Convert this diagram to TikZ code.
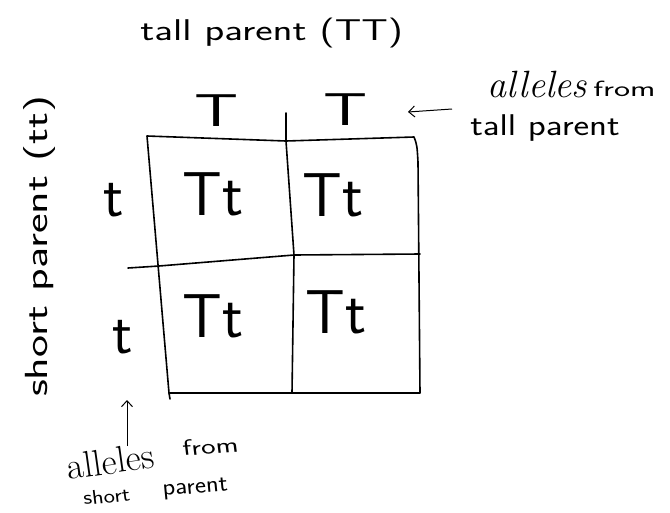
\documentclass[tikz,border=0pt]{standalone}
\usepackage{fontspec}
\usepackage{tikz}
\usetikzlibrary{arrows.meta}

\tikzset{
  hand/.style={font=\sffamily\fontsize{#1}{#1}\selectfont, inner sep=0pt},
  typed/.style={font=\rmfamily\fontsize{#1}{#1}\selectfont, inner sep=0pt},
  typedit/.style={font=\rmfamily\itshape\fontsize{#1}{#1}\selectfont, inner sep=0pt},
  gridline/.style={line width=1.6pt, line join=round, line cap=round},
  notearrow/.style={line width=1pt, -{Straight Barb[length=6pt,width=11pt]}},
}

\begin{document}
\begin{tikzpicture}[x=1pt,y=-1pt]
        \useasboundingbox (0,0) rectangle (670,512);
        % corners of the square
        \coordinate (tl) at (147,136);
        \coordinate (tm) at (286,141);
        \coordinate (tr) at (414,137);
        \coordinate (trb) at (418,162);
        \coordinate (br) at (420,393);
        \coordinate (bm) at (292,393);
        \coordinate (bl) at (169,393);
        \coordinate (mm) at (294,255);
        \coordinate (ml) at (159,266);
        \coordinate (mr) at (420,254);
        \coordinate (vtop) at (286,113);
        \coordinate (hleft) at (128,268);
        \draw[gridline] (tl) -- (tm) -- (tr) .. controls (417,145) .. (trb) -- (br) -- (bm) -- (bl) -- cycle;
        \draw[gridline] (bl) -- ++(1,6);
        \draw[gridline] (vtop) -- (tm) -- (mm) -- (bm);
        \draw[gridline] (hleft) -- (ml) -- (mm) -- (mr);
        % labels
        \node[hand=30, xscale=1.38, anchor=base west] (title) at (140,40) {tall parent (TT)};
        \node[hand=46, xscale=1.5] (talla) at (217,111) {T};
        \node[hand=46, xscale=1.5] (tallb) at (346,110) {T};
        \node[hand=60] (shorta) at (114,200) {t};
        \node[hand=60] (shortb) at (123,337) {t};
        \node[hand=62] (tt11) at (213,194) {Tt};
        \node[hand=62] (tt12) at (333,195) {Tt};
        \node[hand=62] (tt21) at (213,316) {Tt};
        \node[hand=62] (tt22) at (336,312) {Tt};
        \node[hand=32, rotate=90, xscale=1.46] (side) at (40,246) {short parent (tt)};
        % notes
        \node[typedit=38, anchor=base west] (allelest) at (487,97) {alleles};
        \node[hand=22, xscale=1.55, anchor=base west] (fromt) at (593,96) {from};
        \node[hand=30, xscale=1.24, anchor=base west] (tallp) at (470,135) {tall parent};
        \node[typed=37, rotate=8, anchor=base west] (allelesb) at (68,480) {alleles};
        \node[hand=22, xscale=1.4, rotate=5, anchor=base west] (fromb) at (183,456) {from};
        \node[hand=20, xscale=1.2, rotate=6, anchor=base west] (shortp) at (84,505) {short};
        \node[hand=24, xscale=1.1, rotate=5, anchor=base west] (parentb) at (163,496) {parent};
        \coordinate (tailt) at (452,109);
        \coordinate (tipt) at (408,112);
        \coordinate (tailb) at (127,446);
        \coordinate (tipb) at (127,400);
        \draw[notearrow] (tailt) -- (tipt);
        \draw[notearrow] (tailb) -- (tipb);
    \end{tikzpicture}
\end{document}
